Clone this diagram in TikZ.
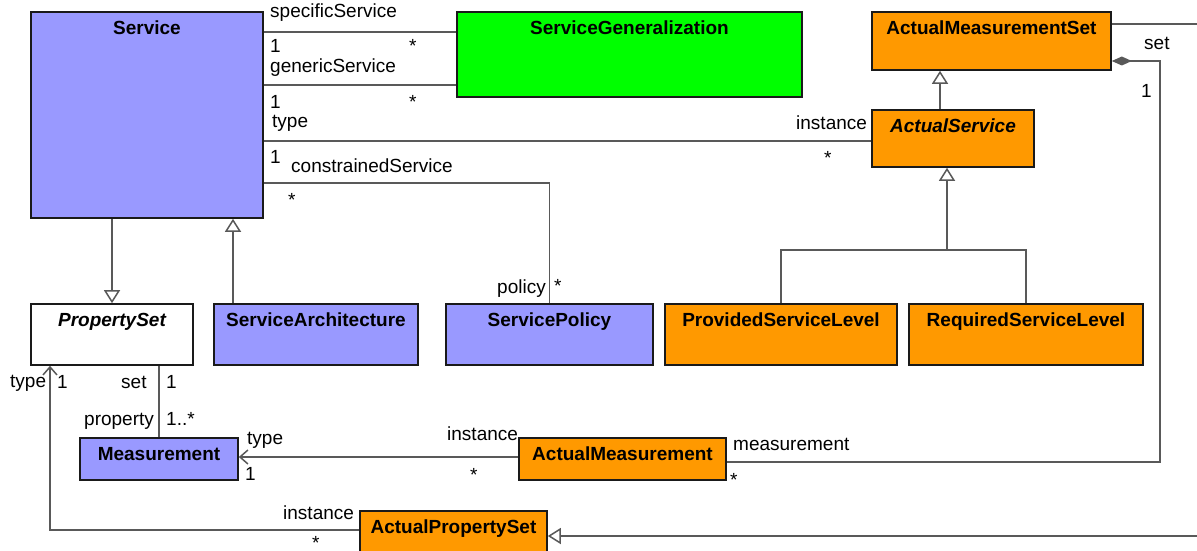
\documentclass[tikz,border=0pt]{standalone}
\usepackage{fontspec}
\setmainfont{Liberation Sans}
\usetikzlibrary{arrows.meta}
\definecolor{svc}{HTML}{9999FF}
\definecolor{grn}{HTML}{00FF00}
\definecolor{org}{HTML}{FF9900}
\definecolor{lncol}{HTML}{595959}
\definecolor{bord}{HTML}{1A1A1A}
\newcommand\fsz{\fontsize{19}{22}\selectfont}
\begin{document}
\begin{tikzpicture}[x=1pt,y=-1pt,
  cls/.style 2 args={draw=bord,line width=1.6pt,rectangle,inner sep=0pt,minimum width=#1pt,minimum height=#2pt},
  ttl/.style={anchor=north,yshift=-9pt,inner sep=0pt,font=\fsz\bfseries,text height=14pt,text depth=4pt},
  ittl/.style={ttl,font=\fsz\bfseries\itshape},
  lbl/.style={anchor=base west,inner sep=0pt,font=\fsz},
  assoc/.style={draw=lncol,line width=1.5pt},
  gen/.style={assoc,-{Triangle[open,length=13pt,width=16pt,fill=white]}},
  nav/.style={assoc,-{Straight Barb[length=8pt,width=14pt]}},
  comp/.style={assoc,{Diamond[length=20pt,width=9pt]}-}]
\useasboundingbox (0,0) rectangle (1197,551);
\clip (0,0) rectangle (1197,551);
% classes
\node[cls={232}{206},fill=svc,label={[ttl]north:Service}] (service) at (147,115) {};
\node[cls={345}{85},fill=grn,label={[ttl]north:ServiceGeneralization}] (sg) at (629.5,54.5) {};
\node[cls={239}{58},fill=org,label={[ttl]north:ActualMeasurementSet}] (ams) at (991.5,41) {};
\node[cls={162}{57},fill=org,label={[ittl]north:ActualService}] (as) at (953,138.5) {};
\node[cls={162}{61},fill=white,label={[ittl]north:PropertySet}] (ps) at (112,334.5) {};
\node[cls={204}{61},fill=svc,label={[ttl]north:ServiceArchitecture}] (sa) at (316,334.5) {};
\node[cls={207}{61},fill=svc,label={[ttl]north:ServicePolicy}] (sp) at (549.5,334.5) {};
\node[cls={232}{61},fill=org,label={[ttl]north:ProvidedServiceLevel}] (psl) at (781,334.5) {};
\node[cls={234}{61},fill=org,label={[ttl]north:RequiredServiceLevel}] (rsl) at (1026,334.5) {};
\node[cls={158}{42},fill=svc,label={[ttl]north:Measurement}] (meas) at (159,459) {};
\node[cls={207}{42},fill=org,label={[ttl]north:ActualMeasurement}] (am) at (622.5,459) {};
\node[cls={187}{50},fill=org,label={[ttl]north:ActualPropertySet}] (aps) at (453.5,536) {};
% connectors
\draw[assoc] (service.east |- 0,32) -- (sg.west |- 0,32);
\draw[assoc] (service.east |- 0,85) -- (sg.west |- 0,85);
\draw[assoc] (service.east |- 0,141) -- (as.west |- 0,141);
\draw[assoc] (service.east |- 0,183) -| (sp.north);
\draw[gen] (ps.north |- service.south) -- (ps.north);
\draw[gen] (sa.north -| 233,0) -- (service.south -| 233,0);
\draw[gen] (as.north -| 940,0) -- (ams.south -| 940,0);
\coordinate (bus) at (947,250);
\draw[gen] (bus) -- (bus |- as.south);
\draw[assoc] (psl.north) |- (bus) -| (rsl.north);
\draw[assoc] (meas.north) -- (meas.north |- ps.south);
\draw[nav] (am.west |- 0,457) -- (meas.east |- 0,457);
\draw[nav] (aps.west |- 0,530) -| (ps.south -| 50,0);
\draw[comp] (ams.east |- 0,61) -| (1160,462) -- (am.east |- 0,462);
\draw[gen] (ams.east |- 0,24) -- (1215,24) -- (1215,536) -- (aps.east);
% labels
\node[lbl] (t1) at (270,18) {specificService};
\node[lbl] (t2) at (270,53) {1};
\node[lbl] (t3) at (409,53) {*};
\node[lbl] (t4) at (270,73) {genericService};
\node[lbl] (t5) at (270,108) {1};
\node[lbl] (t6) at (409,108) {*};
\node[lbl] (t7) at (272,128) {type};
\node[lbl] (t8) at (270,163) {1};
\node[lbl] (t9) at (291,172) {constrainedService};
\node[lbl] (t10) at (288,206) {*};
\node[lbl] (t11) at (796,129) {instance};
\node[lbl] (t12) at (824,164) {*};
\node[lbl] (t13) at (497,293) {policy};
\node[lbl] (t14) at (554,292) {*};
\node[lbl] (t15) at (1144,50) {set};
\node[lbl] (t16) at (1141,97) {1};
\node[lbl] (t17) at (733,450) {measurement};
\node[lbl] (t18) at (730,486) {*};
\node[lbl] (t19) at (447,440) {instance};
\node[lbl] (t20) at (470,481) {*};
\node[lbl] (t21) at (247,444) {type};
\node[lbl] (t22) at (245,480) {1};
\node[lbl] (t23) at (10,387) {type};
\node[lbl] (t24) at (57,388) {1};
\node[lbl] (t25) at (121,388) {set};
\node[lbl] (t26) at (166,388) {1};
\node[lbl] (t27) at (84,425) {property};
\node[lbl] (t28) at (166,425) {1..*};
\node[lbl] (t29) at (283,519) {instance};
\node[lbl] (t30) at (312,549) {*};
\end{tikzpicture}
\end{document}
